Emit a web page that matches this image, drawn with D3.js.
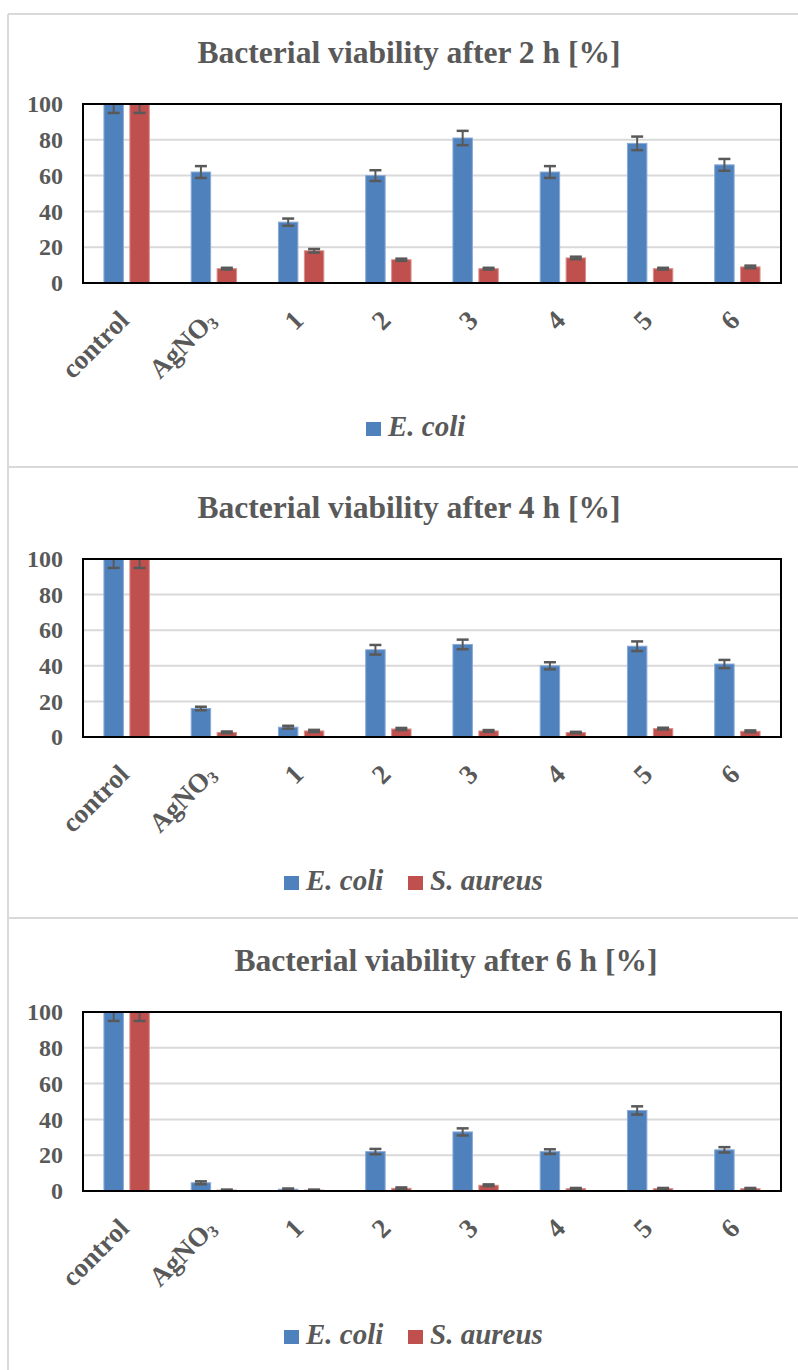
<!DOCTYPE html>
<html><head><meta charset="utf-8">
<script src="https://cdn.jsdelivr.net/npm/d3@7"></script>
<style>
html,body{margin:0;padding:0;background:#fff;}
svg{display:block;}
text{font-family:"Liberation Serif","Times New Roman",serif;fill:#595959;font-weight:bold;}
</style></head>
<body>
<svg id="chart" width="798" height="1370"></svg>
<script>
const categories = ["control","AgNO3","1","2","3","4","5","6"];
const yTicks = [0,20,40,60,80,100];
const titles = ["Bacterial viability after 2 h [%]","Bacterial viability after 4 h [%]","Bacterial viability after 6 h [%]"];
const seriesNames = ["E. coli","S. aureus"];

const ecoli2h    = [100, 62, 34, 60, 81, 62, 78, 66];
const ecoli2hErr = [5, 3.3, 2, 3, 4, 3.3, 3.8, 3.3];
const saureus2h    = [100, 8, 18, 13, 8, 14, 8, 9];
const saureus2hErr = [5, 0.5, 1, 0.6, 0.5, 0.7, 0.5, 0.7];

const ecoli4h    = [100, 16, 5.5, 49, 52, 40, 51, 41];
const ecoli4hErr = [5, 1, 0.8, 2.7, 2.7, 2, 2.7, 2.3];
const saureus4h    = [100, 2.6, 3.4, 4.5, 3.4, 2.5, 4.7, 3.2];
const saureus4hErr = [5, 0.5, 0.6, 0.6, 0.5, 0.4, 0.5, 0.5];

const ecoli6h    = [100, 4.6, 1, 22, 33, 22, 45, 23];
const ecoli6hErr = [5, 0.8, 0.4, 1.5, 2, 1.3, 2.3, 1.5];
const saureus6h    = [100, 0.5, 0.5, 1.5, 3.2, 1.3, 1.3, 1.3];
const saureus6hErr = [5, 0.3, 0.3, 0.5, 0.5, 0.4, 0.4, 0.4];

const colors = ["#4f81bd","#c0504d"];
const strokes = ["#8aaad6","#d9908e"];

const panels = [
  {title:titles[0], titleX:409, top:104, bottom:283, series:[[ecoli2h,ecoli2hErr],[saureus2h,saureus2hErr]], legend:[0]},
  {title:titles[1], titleX:409, top:559, bottom:737, series:[[ecoli4h,ecoli4hErr],[saureus4h,saureus4hErr]], legend:[0,1]},
  {title:titles[2], titleX:446, top:1012, bottom:1191, series:[[ecoli6h,ecoli6hErr],[saureus6h,saureus6hErr]], legend:[0,1]}
];

const svg = d3.select("#chart");
const left = 83, right = 781;

// outer panel borders
const bc = "#d9d9d9";
svg.append("line").attr("x1",8).attr("x2",798).attr("y1",14).attr("y2",14).attr("stroke",bc).attr("stroke-width",2);
svg.append("line").attr("x1",8).attr("x2",8).attr("y1",14).attr("y2",1370).attr("stroke",bc).attr("stroke-width",2);
[467,918].forEach(y=>svg.append("line").attr("x1",8).attr("x2",798).attr("y1",y).attr("y2",y).attr("stroke",bc).attr("stroke-width",2));

const x0 = d3.scaleBand().domain(categories).range([left,right]).paddingInner(0.48).paddingOuter(0.24);
const x1 = d3.scaleBand().domain([0,1]).range([0,x0.bandwidth()]).paddingInner(0.25);

panels.forEach((p,pi)=>{
  const g = svg.append("g");
  const y = d3.scaleLinear().domain([0,100]).range([p.bottom,p.top]);
  const clipId = "clip"+pi;
  g.append("clipPath").attr("id",clipId).append("rect")
    .attr("x",left).attr("y",p.top).attr("width",right-left).attr("height",p.bottom-p.top);

  // title
  g.append("text").attr("x",p.titleX).attr("y",p.top-41).attr("text-anchor","middle")
    .style("font-size","31.6px").text(p.title);

  // gridlines
  g.selectAll(".grid").data(yTicks.filter(t=>t>0&&t<100)).enter().append("line")
    .attr("x1",left).attr("x2",right).attr("y1",d=>y(d)).attr("y2",d=>y(d))
    .attr("stroke","#d9d9d9").attr("stroke-width",2);

  // y axis labels
  const yAxis = d3.axisLeft(y).tickValues(yTicks).tickSize(0).tickPadding(20);
  const ya = g.append("g").attr("transform",`translate(${left},0)`).call(yAxis);
  ya.select(".domain").remove();
  ya.selectAll("text").style("font-size","24px").attr("fill","#595959")
    .style("font-family","'Liberation Serif','Times New Roman',serif").style("font-weight","bold");

  // bars
  p.series.forEach((s,si)=>{
    const [vals,errs] = s;
    g.selectAll(".bar"+si).data(categories).enter().append("rect")
      .attr("x",c=>x0(c)+x1(si)).attr("width",x1.bandwidth())
      .attr("y",(c,i)=>y(vals[i])).attr("height",(c,i)=>y(0)-y(vals[i]))
      .attr("fill",colors[si]).attr("stroke",strokes[si]).attr("stroke-width",1);
    const eg = g.append("g").attr("clip-path",`url(#${clipId})`);
    categories.forEach((c,i)=>{
      const cx = x0(c)+x1(si)+x1.bandwidth()/2;
      const lo = y(vals[i]-errs[i]), hi = y(vals[i]+errs[i]);
      eg.append("line").attr("x1",cx).attr("x2",cx).attr("y1",lo).attr("y2",hi).attr("stroke","#595959").attr("stroke-width",2);
      [lo,hi].forEach(yy=>eg.append("line").attr("x1",cx-6).attr("x2",cx+6).attr("y1",yy).attr("y2",yy).attr("stroke","#595959").attr("stroke-width",2.5));
    });
  });

  // frame
  g.append("rect").attr("x",left).attr("y",p.top).attr("width",right-left).attr("height",p.bottom-p.top)
    .attr("fill","none").attr("stroke","#000").attr("stroke-width",2);

  // x labels
  const xl = g.selectAll(".xl").data(categories).enter().append("text")
    .attr("transform",c=>`translate(${x0(c)+x0.bandwidth()/2+4},${p.bottom+39}) rotate(-45)`)
    .attr("text-anchor","end").style("font-size","27px");
  xl.each(function(c){
    const t = d3.select(this);
    if(c==="AgNO3"){
      t.append("tspan").text("AgNO");
      t.append("tspan").text("3").style("font-size","17px").attr("dy","3");
    } else t.text(c);
  });

  // legend
  const lg = g.append("g");
  const items = p.legend;
  const baseY = p.bottom + 153;
  const startX = items.length===1 ? 366 : 284;
  items.forEach((si,k)=>{
    const gx = startX + k*124;
    lg.append("rect").attr("x",gx).attr("y",baseY-14).attr("width",15).attr("height",14)
      .attr("fill",colors[si]);
    lg.append("text").attr("x",gx+22).attr("y",baseY).style("font-size","29px")
      .style("font-style","italic").text(seriesNames[si]);
  });
});
</script>
</body></html>
